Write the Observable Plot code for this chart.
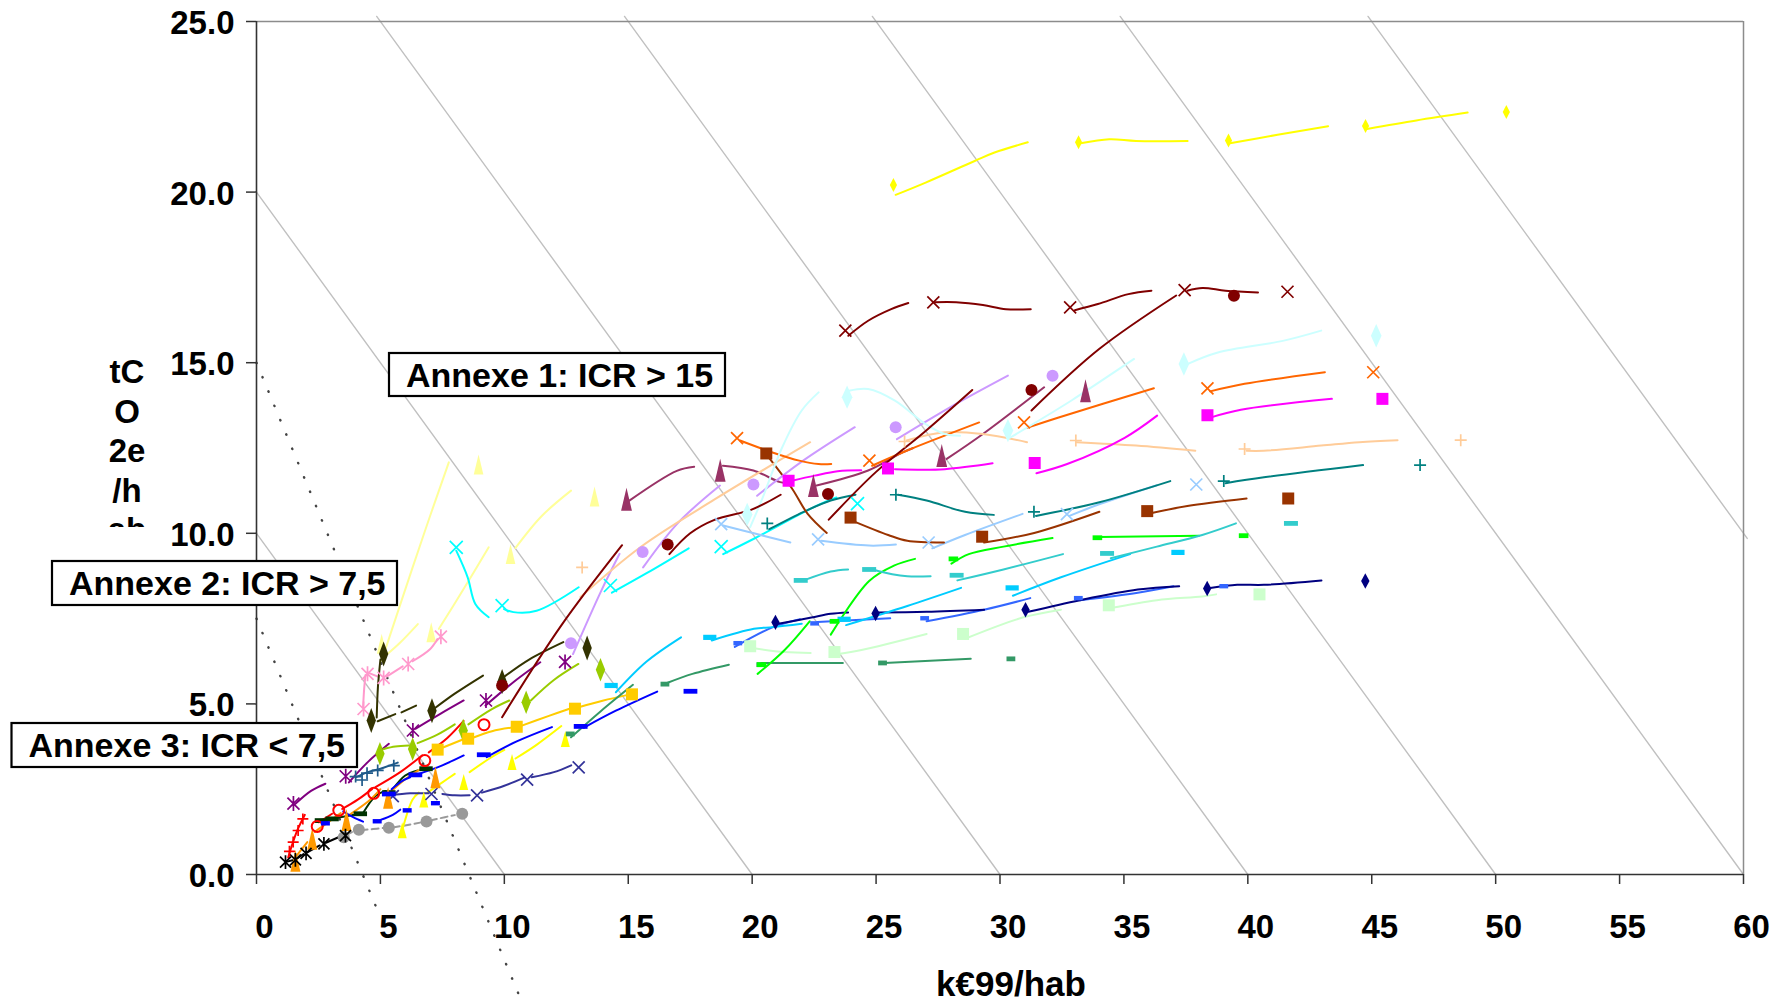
<!DOCTYPE html>
<html><head><meta charset="utf-8">
<script src="https://cdn.jsdelivr.net/npm/d3@7"></script>
<script src="https://cdn.jsdelivr.net/npm/@observablehq/plot@0.6"></script>
<style>body{margin:0;background:#fff}svg{display:block}</style>
</head><body><div id="chart"></div>
<script>
// ---------- axis / text content ----------
const xTicks = [0,5,10,15,20,25,30,35,40,45,50,55,60];
const yTicks = [0,5,10,15,20,25];
const xLabel = "k€99/hab";
const yLabelLines = ["tC","O","2e","/h","ab"];
const annexes = ["Annexe 1: ICR > 15","Annexe 2: ICR > 7,5","Annexe 3: ICR < 7,5"];
// iso lines x + y = c
const isoLevels = [10,20,30,40,50,60,70];
// dotted ICR threshold lines
const icr15 = [[0,15],[10.6,-3.55]];
const icr75 = [[0,7.5],[4.9,-1.08]];

// ---------- series (markers + line segments) ----------
const yellowD_pts = [[25.70,20.21],[33.17,21.46],[39.22,21.51],[44.75,21.94],[50.43,22.35]];
const yellowD_lines = [
 [[25.79,19.92],[27.0,20.28],[29.0,20.92],[29.78,21.16],[31.12,21.46]],
 [[33.25,21.43],[34.41,21.55],[35.49,21.5],[37.57,21.5]],
 [[39.28,21.43],[41.2,21.68],[43.24,21.93]],
 [[44.81,21.85],[46.8,22.1],[48.87,22.33]]];

const maroonX_pts = [[23.76,15.94],[27.31,16.77],[32.83,16.62],[37.45,17.13],[41.6,17.08]];
const maroonX_lines = [
 [[23.88,15.79],[24.68,16.23],[25.61,16.57],[26.3,16.75]],
 [[27.38,16.77],[28.23,16.77],[29.31,16.69],[30.24,16.57],[31.24,16.57]],
 [[33.02,16.54],[33.95,16.72],[35.18,17.01],[36.11,17.11]],
 [[37.56,17.11],[38.17,17.19],[39.1,17.11],[40.41,17.06]]];

const maroonO_pts = [[9.91,5.54],[16.59,9.67],[23.06,11.15],[31.27,14.2],[39.44,16.96]];
const maroonO_lines = [
 [[9.91,4.61],[12.3,7.3],[14.75,9.65]],
 [[16.66,9.39],[17.5,10.0],[18.5,10.4],[20.0,10.7],[21.15,11.13]],
 [[23.09,10.4],[25.0,11.8],[27.0,13.0],[28.88,14.2]],
 [[31.27,13.6],[34.0,15.4],[37.11,16.97]]];

const lcyanD_pts = [[19.8,10.55],[23.83,13.99],[30.32,13.01],[37.42,14.96],[45.18,15.79]];
const lcyanD_lines = [
 [[19.92,10.18],[20.4,11.0],[21.2,12.5],[22.0,13.6],[22.68,14.13]],
 [[23.91,14.18],[24.68,14.23],[25.76,13.89],[27.0,13.2],[27.77,12.91],[28.39,12.86]],
 [[30.4,12.8],[32.9,13.9],[35.41,15.11]],
 [[37.56,14.96],[38.79,15.3],[41.41,15.64],[42.96,15.94]]];

const orangeX_pts = [[19.39,12.79],[24.73,12.13],[30.97,13.25],[38.37,14.25],[45.06,14.72]];
const orangeX_lines = [
 [[19.51,12.72],[20.82,12.37],[21.9,12.13],[22.68,12.03],[23.19,12.03]],
 [[24.84,11.98],[26.23,12.42],[29.16,13.25]],
 [[31.09,13.09],[32.4,13.4],[36.21,14.25]],
 [[38.48,14.16],[39.87,14.38],[43.11,14.72]]];

const magentaS_pts = [[21.47,11.54],[25.48,11.9],[31.4,12.06],[38.37,13.46],[45.43,13.94]];
const magentaS_lines = [
 [[21.6,11.54],[22.52,11.69],[23.45,11.82],[24.4,11.85]],
 [[25.76,11.88],[27.77,11.88],[29.7,12.05]],
 [[31.47,11.76],[32.71,12.03],[35.03,12.8],[36.34,13.45]],
 [[38.48,13.39],[39.72,13.62],[43.39,13.94]]];

const peachP_pts = [[13.14,9.0],[26.15,12.69],[33.06,12.72],[39.87,12.47],[48.59,12.73]];
const peachP_lines = [
 [[13.07,8.13],[15.5,9.6],[18.5,11.0],[22.34,12.67]],
 [[26.23,12.72],[27.77,12.96],[29.31,12.91],[31.09,12.67]],
 [[33.1,12.67],[35.49,12.57],[37.88,12.42]],
 [[39.95,12.42],[40.64,12.42],[42.96,12.57],[44.5,12.67],[46.04,12.73]]];

const lavO_pts = [[12.69,6.78],[15.58,9.45],[20.05,11.43],[25.79,13.11],[32.12,14.62]];
const lavO_lines = [
 [[12.77,6.46],[13.9,8.3],[14.65,9.4]],
 [[15.6,9.0],[17.0,10.3],[18.7,11.4]],
 [[20.2,11.1],[22.0,12.1],[24.14,13.11]],
 [[25.84,12.76],[28.0,13.7],[30.32,14.62]]];

const plumT_pts = [[14.93,11.0],[18.71,11.85],[22.47,11.4],[27.65,12.28],[33.45,14.18]];
const plumT_lines = [
 [[15.03,10.95],[16.96,11.83],[17.66,11.95]],
 [[18.82,11.98],[20.05,11.84],[21.13,11.5],[21.6,11.45]],
 [[22.6,11.4],[24.68,11.84],[26.07,12.37],[26.5,12.5]],
 [[27.85,12.18],[29.31,12.91],[31.78,14.28]]];

const brownS_pts = [[20.57,12.34],[23.97,10.46],[29.28,9.9],[35.94,10.65],[41.63,11.02]];
const brownS_lines = [
 [[20.69,12.2],[21.62,11.3],[22.24,10.57],[23.01,10.01]],
 [[24.1,10.35],[25.49,9.95],[26.26,9.78],[27.74,9.73]],
 [[29.36,9.73],[31.38,10.01],[34.01,10.63]],
 [[36.17,10.6],[37.56,10.8],[39.95,11.02]]];

const tealP_pts = [[20.61,10.29],[25.8,11.13],[31.37,10.63],[39.03,11.53],[46.95,12.0]];
const tealP_lines = [
 [[20.69,10.12],[22.08,10.63],[23.17,10.96],[24.17,11.13]],
 [[25.88,11.13],[27.04,10.96],[28.59,10.63],[29.75,10.54]],
 [[31.45,10.51],[34.01,10.91],[36.87,11.53]],
 [[39.1,11.47],[40.65,11.64],[44.65,12.0]]];

const lblueX_pts = [[18.75,10.27],[22.66,9.82],[27.12,9.73],[32.7,10.56],[37.92,11.43]];
const lblueX_lines = [
 [[18.83,10.23],[20.07,10.0],[21.54,9.73]],
 [[22.78,9.78],[24.72,9.64],[25.8,9.67]],
 [[27.27,9.56],[28.59,9.95],[30.91,10.57]],
 [[32.8,10.51],[34.0,10.85],[36.33,11.41]]];

const cyanX_pts = [[8.06,9.59],[9.91,7.88],[14.28,8.47],[18.75,9.61],[24.25,10.87]];
const cyanX_lines = [
 [[8.06,9.49],[8.52,8.71],[8.83,7.93],[9.37,7.54]],
 [[9.99,7.78],[10.37,7.69],[11.3,7.73],[13.0,8.42]],
 [[14.34,8.26],[15.74,8.83],[17.44,9.56]],
 [[18.83,9.39],[20.07,9.84],[22.55,10.79],[23.4,11.05]]];

const turqD_pts = [[21.96,8.62],[24.72,8.94],[28.25,8.77],[34.32,9.41],[41.74,10.29]];
const turqD_lines = [
 [[22.08,8.62],[23.17,8.88],[23.87,8.94]],
 [[24.87,8.94],[25.65,8.8],[26.26,8.74],[27.2,8.74]],
 [[28.28,8.62],[30.14,8.94],[32.54,9.39]],
 [[34.47,9.27],[36.33,9.61],[38.16,9.95],[39.52,10.29]]];

const limeD_pts = [[20.38,6.15],[23.32,7.42],[28.12,9.25],[33.93,9.87],[39.83,9.93]];
const limeD_lines = [
 [[20.22,5.88],[21.31,6.58],[22.32,7.42]],
 [[23.17,7.03],[24.72,8.6],[25.72,9.05],[26.57,9.25]],
 [[28.04,9.11],[28.74,9.39],[30.14,9.61],[32.12,9.86]],
 [[34.01,9.89],[38.03,9.93]]];

const skyD_pts = [[14.31,5.54],[18.29,6.95],[23.71,7.48],[30.49,8.4],[37.18,9.44]];
const skyD_lines = [
 [[14.5,5.34],[15.74,6.24],[17.13,6.95]],
 [[18.37,6.86],[20.07,7.2],[20.84,7.25],[22.0,7.35]],
 [[23.79,7.31],[26.26,7.87],[28.43,8.4]],
 [[30.52,8.17],[32.46,8.71],[35.25,9.39]]];

const seaD_pts = [[12.66,4.12],[16.48,5.58],[20.35,6.15],[25.26,6.2],[30.44,6.32]];
const seaD_lines = [
 [[12.69,4.02],[13.88,4.78],[15.19,5.56]],
 [[16.59,5.62],[17.59,5.88],[19.06,6.15]],
 [[20.38,6.2],[23.66,6.2]],
 [[25.34,6.2],[28.82,6.32]]];

const lgreenS_pts = [[19.92,6.69],[23.32,6.52],[28.51,7.05],[34.39,7.89],[40.47,8.21]];
const lgreenS_lines = [
 [[20.07,6.63],[21.31,6.52],[22.36,6.49]],
 [[23.48,6.46],[24.41,6.58],[27.04,7.05]],
 [[28.59,6.91],[30.91,7.53],[32.46,7.76]],
 [[34.47,7.81],[36.33,8.04],[38.16,8.15],[38.72,8.21]]];

const navyD_pts = [[20.94,7.39],[24.98,7.65],[31.03,7.76],[38.36,8.38],[44.74,8.6]];
const navyD_lines = [
 [[21.0,7.34],[22.39,7.53],[23.17,7.64],[23.87,7.68]],
 [[25.03,7.68],[27.04,7.7],[29.36,7.76]],
 [[31.14,7.7],[33.23,8.04],[35.56,8.35],[37.23,8.45]],
 [[38.48,8.4],[39.57,8.49],[40.65,8.49],[42.97,8.62]]];

const royalD_pts = [[19.42,6.78],[22.52,7.36],[26.96,7.51],[33.16,8.1],[39.03,8.45]];
const royalD_lines = [
 [[19.3,6.67],[20.84,7.25],[21.93,7.48]],
 [[22.63,7.4],[25.57,7.51]],
 [[27.04,7.42],[29.36,7.76],[31.22,8.1]],
 [[33.23,8.04],[35.56,8.26],[37.0,8.45]]];

const blueA_pts = [[5.34,2.36],[6.41,2.92],[9.17,3.51],[13.08,4.34],[17.51,5.37]];
const blueA_lines = [
 [[5.45,2.5],[5.9,2.75],[6.2,2.85]],
 [[6.55,2.95],[7.5,3.2],[8.36,3.49]],
 [[9.29,3.44],[10.5,3.9],[11.92,4.32]],
 [[13.2,4.3],[14.5,4.8],[16.17,5.36]]];

const blueB_pts = [[2.78,1.5],[4.87,1.56],[6.08,1.88],[7.22,2.09]];
const blueB_lines = [
 [[3.5,1.85],[3.9,1.68],[4.3,1.55]],
 [[5.0,1.6],[5.5,1.75],[5.8,1.9]]];

const redO_pts = [[2.45,1.41],[3.32,1.88],[4.73,2.38],[6.79,3.34],[9.18,4.39]];
const redO_lines = [
 [[2.51,1.53],[3.05,1.78]],
 [[3.46,1.92],[4.1,2.2],[4.67,2.51]],
 [[4.8,2.56],[5.8,3.0],[6.68,3.49]],
 [[6.95,3.58],[7.7,4.0],[8.36,4.5]]];

const redP_pts = [[1.33,0.68],[1.48,0.95],[1.68,1.29],[1.87,1.63]];
const redP_lines = [[[1.28,0.5],[1.45,0.9],[1.65,1.3],[1.95,1.75]]];

const blackA_pts = [[1.17,0.36],[1.57,0.43],[2.0,0.62],[2.72,0.9],[3.59,1.14]];
const blackA_lines = [
 [[1.2,0.37],[1.45,0.42]],
 [[1.6,0.45],[1.9,0.6]],
 [[2.05,0.65],[2.55,0.85]],
 [[2.8,0.93],[3.4,1.12]]];

const orangeT_pts = [[1.57,0.4],[2.25,1.05],[3.63,1.6],[5.31,2.25],[7.22,2.85]];
const orangeT_lines = [
 [[1.62,0.55],[2.05,0.95]],
 [[2.35,1.25],[3.4,1.8]],
 [[3.75,1.75],[4.6,2.2],[5.0,2.5]],
 [[5.45,2.45],[6.2,2.9],[6.9,3.2]]];

const goldS_pts = [[7.31,3.66],[8.54,3.98],[10.5,4.33],[12.85,4.86],[15.15,5.28]];
const goldS_lines = [
 [[7.45,3.7],[8.3,3.95]],
 [[8.7,4.0],[9.5,4.2],[10.25,4.3]],
 [[10.65,4.35],[11.8,4.65],[12.6,4.85]],
 [[13.0,4.9],[14.0,5.1],[14.9,5.25]]];

const oliveD_pts = [[5.13,6.46],[4.63,4.51],[7.08,4.8],[9.91,5.66],[13.34,6.64]];
const oliveD_lines = [
 [[5.0,6.3],[4.9,5.5],[4.85,4.6]],
 [[4.89,4.49],[5.6,4.7]],
 [[5.85,4.75],[6.44,4.95]],
 [[7.15,4.85],[8.0,5.3],[9.14,5.83]],
 [[10.0,5.8],[11.0,6.3],[12.38,6.81]]];

const ygreenD_pts = [[4.98,3.54],[6.3,3.68],[8.34,4.22],[10.88,5.05],[13.88,6.0]];
const ygreenD_lines = [
 [[5.14,3.68],[5.6,3.75],[6.15,3.78]],
 [[6.5,3.85],[7.3,4.1],[8.0,4.4]],
 [[8.55,4.4],[9.5,4.85],[10.2,5.1]],
 [[11.07,5.1],[12.0,5.7],[12.99,6.17]]];

const purpleA_pts = [[1.49,2.08],[3.6,2.88],[6.31,4.22],[9.26,5.1],[12.45,6.23]];
const purpleA_lines = [
 [[1.57,2.07],[2.2,2.45],[2.78,2.66]],
 [[3.73,2.7],[4.5,3.3],[5.34,3.83]],
 [[6.41,4.27],[7.4,4.7],[8.36,5.1]],
 [[9.24,4.95],[10.3,5.6],[11.45,6.22]]];

const steelP_pts = [[4.0,2.87],[4.26,2.77],[4.46,2.97],[4.89,3.05],[5.54,3.19]];
const steelP_lines = [[[4.0,2.85],[4.5,3.0],[5.0,3.1],[5.7,3.28]]];

const dgreenD_pts = [[2.62,1.58],[3.05,1.63],[4.19,1.78],[5.34,2.4],[6.84,3.1]];
const dgreenD_lines = [
 [[2.5,1.6],[2.9,1.62]],
 [[3.1,1.64],[4.0,1.76]],
 [[4.3,1.8],[4.8,2.3],[5.2,2.45]],
 [[5.5,2.5],[6.0,2.9],[6.5,3.05]]];

const grayO_pts = [[3.52,1.09],[4.13,1.31],[5.34,1.37],[6.86,1.55],[8.3,1.78]];
const grayO_lines = [
 [[3.6,1.15],[3.95,1.28]],
 [[4.2,1.3],[4.7,1.33],[5.1,1.36]],
 [[5.5,1.38],[6.1,1.45],[6.6,1.52]],
 [[7.0,1.58],[7.6,1.68],[8.0,1.74]]];

const slateX_pts = [[5.5,2.3],[7.06,2.36],[8.9,2.32],[10.92,2.78],[13.0,3.14]];
const slateX_lines = [
 [[5.4,2.32],[6.2,2.38],[6.95,2.38]],
 [[7.5,2.36],[8.0,2.32],[8.6,2.32]],
 [[9.1,2.4],[10.0,2.6],[10.8,2.84]],
 [[11.1,2.85],[12.0,3.0],[12.7,3.2]]];

const yellowT_pts = [[5.88,1.3],[6.75,2.2],[8.36,2.71],[10.31,3.3],[12.46,3.97]];
const yellowT_lines = [
 [[5.9,1.35],[6.3,2.2],[6.55,2.4]],
 [[6.9,2.4],[7.5,2.7],[8.0,2.95]],
 [[8.6,3.0],[9.4,3.4],[10.0,3.65]],
 [[10.45,3.4],[11.3,3.8],[12.3,4.35]]];

const pinkA_pts = [[4.32,4.85],[4.48,5.88],[5.13,5.76],[6.12,6.17],[7.44,6.97]];
const pinkA_lines = [
 [[4.3,4.9],[4.35,5.5],[4.4,5.85]],
 [[4.55,5.9],[4.9,5.8]],
 [[5.25,5.8],[5.9,6.1]],
 [[6.3,6.25],[7.0,6.6],[7.3,6.9]]];

const paleT_pts = [[5.05,6.76],[7.05,7.1],[8.96,12.02],[10.25,9.39],[13.64,11.08]];
const paleT_lines = [
 [[5.05,6.27],[6.3,9.0],[7.0,10.5],[7.76,12.08]],
 [[5.28,6.46],[5.8,6.8],[6.51,7.34]],
 [[7.36,7.2],[8.3,8.3],[9.37,9.59]],
 [[10.45,9.57],[11.5,10.5],[12.69,11.25]]];

// ---------- styles ----------
const seriesList = [
 {pts: grayO_pts, lines: grayO_lines, color: "#999999", shape: ["circle",6], dash: "7 4"},
 {pts: paleT_pts, lines: paleT_lines, color: "#FFFF99", shape: ["tri",4.8,20]},
 {pts: pinkA_pts, lines: pinkA_lines, color: "#FF99CC", shape: ["star",6]},
 {pts: yellowT_pts, lines: yellowT_lines, color: "#FFFF00", shape: ["tri",4.5,16]},
 {pts: slateX_pts, lines: slateX_lines, color: "#333399", shape: ["x",6]},
 {pts: dgreenD_pts, lines: dgreenD_lines, color: "#003300", shape: ["dash",6.7,2.4]},
 {pts: steelP_pts, lines: steelP_lines, color: "#1F5A8A", shape: ["plus",6]},
 {pts: purpleA_pts, lines: purpleA_lines, color: "#800080", shape: ["star",6]},
 {pts: ygreenD_pts, lines: ygreenD_lines, color: "#99CC00", shape: ["diamond",4.7,11.7]},
 {pts: oliveD_pts, lines: oliveD_lines, color: "#333300", shape: ["diamond",4.7,12.5]},
 {pts: goldS_pts, lines: goldS_lines, color: "#FFCC00", shape: ["square",6]},
 {pts: orangeT_pts, lines: orangeT_lines, color: "#FF9900", shape: ["tri",5,22]},
 {pts: blackA_pts, lines: blackA_lines, color: "#000000", shape: ["star",5.5]},
 {pts: redP_pts, lines: redP_lines, color: "#FF0000", shape: ["plus",5.5]},
 {pts: redO_pts, lines: redO_lines, color: "#FF0000", shape: ["ocircle",5.5]},
 {pts: blueB_pts, lines: blueB_lines, color: "#0000FF", shape: ["dash",4.5,2.2]},
 {pts: blueA_pts, lines: blueA_lines, color: "#0000FF", shape: ["dash",6.9,2.4]},
 {pts: royalD_pts, lines: royalD_lines, color: "#3366FF", shape: ["dash",4.4,2.2]},
 {pts: navyD_pts, lines: navyD_lines, color: "#000080", shape: ["diamond",4.2,7.7]},
 {pts: lgreenS_pts, lines: lgreenS_lines, color: "#CCFFCC", shape: ["square",6]},
 {pts: seaD_pts, lines: seaD_lines, color: "#339966", shape: ["dash",4.4,2.4]},
 {pts: skyD_pts, lines: skyD_lines, color: "#00CCFF", shape: ["dash",6.6,2.6]},
 {pts: limeD_pts, lines: limeD_lines, color: "#00FF00", shape: ["dash",4.8,2.4]},
 {pts: turqD_pts, lines: turqD_lines, color: "#33CCCC", shape: ["dash",7,2.4]},
 {pts: cyanX_pts, lines: cyanX_lines, color: "#00FFFF", shape: ["x",6.5]},
 {pts: lblueX_pts, lines: lblueX_lines, color: "#99CCFF", shape: ["x",6]},
 {pts: tealP_pts, lines: tealP_lines, color: "#008080", shape: ["plus",6]},
 {pts: brownS_pts, lines: brownS_lines, color: "#993300", shape: ["square",6]},
 {pts: plumT_pts, lines: plumT_lines, color: "#993366", shape: ["tri",5.4,23]},
 {pts: lavO_pts, lines: lavO_lines, color: "#CC99FF", shape: ["circle",6]},
 {pts: peachP_pts, lines: peachP_lines, color: "#FFCC99", shape: ["plus",6]},
 {pts: magentaS_pts, lines: magentaS_lines, color: "#FF00FF", shape: ["square",6]},
 {pts: orangeX_pts, lines: orangeX_lines, color: "#FF6600", shape: ["x",6]},
 {pts: lcyanD_pts, lines: lcyanD_lines, color: "#CCFFFF", shape: ["diamond",5.3,11.7]},
 {pts: maroonO_pts, lines: maroonO_lines, color: "#800000", shape: ["circle",6]},
 {pts: maroonX_pts, lines: maroonX_lines, color: "#800000", shape: ["x",6]},
 {pts: yellowD_pts, lines: yellowD_lines, color: "#FFFF00", shape: ["diamond",3.6,7]}
];

function makeSymbol(kind, a, b) {
  switch (kind) {
    case "diamond": return {draw(c){c.moveTo(0,-b);c.lineTo(a,0);c.lineTo(0,b);c.lineTo(-a,0);c.closePath();}};
    case "square": return {draw(c){c.rect(-a,-a,2*a,2*a);}};
    case "dash": return {draw(c){c.rect(-a,-b,2*a,2*b);}};
    case "tri": return {draw(c){c.moveTo(0,-b/2);c.lineTo(a,b/2);c.lineTo(-a,b/2);c.closePath();}};
    case "circle": case "ocircle": return {draw(c){c.moveTo(a,0);c.arc(0,0,a,0,2*Math.PI);}};
    case "x": return {draw(c){c.moveTo(-a,-a);c.lineTo(a,a);c.moveTo(a,-a);c.lineTo(-a,a);}};
    case "plus": return {draw(c){c.moveTo(-a,0);c.lineTo(a,0);c.moveTo(0,-a);c.lineTo(0,a);}};
    case "star": return {draw(c){c.moveTo(-a,-a);c.lineTo(a,a);c.moveTo(a,-a);c.lineTo(-a,a);c.moveTo(0,-a*1.25);c.lineTo(0,a*1.25);}};
  }
}
const strokeKinds = new Set(["x","plus","star","ocircle"]);

// ---------- build marks ----------
const isoRows = isoLevels.flatMap(c => {
  const xs = Math.max(0, c - 25.15), xe = Math.min(c, 60.15);
  return [{c, x: xs, y: c - xs}, {c, x: xe, y: c - xe}];
});
const noText = () => "";

const marks = [
  Plot.line(isoRows, {x: "x", y: "y", z: "c", stroke: "#C0C0C0", strokeWidth: 1.4}),
  Plot.line(icr15, {x: d => d[0], y: d => d[1], stroke: "#444", strokeWidth: 2.4, strokeDasharray: "0.5 15", strokeLinecap: "round"}),
  Plot.line(icr75, {x: d => d[0], y: d => d[1], stroke: "#444", strokeWidth: 2.4, strokeDasharray: "0.5 15", strokeLinecap: "round"}),
  Plot.ruleY([25], {stroke: "#8c8c8c", strokeWidth: 1.5}),
  Plot.ruleX([60], {stroke: "#8c8c8c", strokeWidth: 1.5}),
  Plot.ruleY([0], {stroke: "#333", strokeWidth: 1.6}),
  Plot.ruleX([0], {stroke: "#333", strokeWidth: 1.6}),
  Plot.axisX({ticks: xTicks, tickSize: 10, tickFormat: noText, label: null, stroke: "#333", strokeWidth: 1.5}),
  Plot.axisX({ticks: xTicks, tickSize: 0, tickPadding: 40, dx: 8, label: null, fontSize: 33, fontWeight: "bold", fill: "#000"}),
  Plot.axisY({ticks: yTicks, tickSize: 10, tickFormat: noText, label: null, stroke: "#333", strokeWidth: 1.5}),
  Plot.axisY({ticks: yTicks, tickSize: 0, tickPadding: 22, dy: 2, tickFormat: d3.format(".1f"), label: null, fontSize: 33, fontWeight: "bold", fill: "#000"}),
  Plot.text([xLabel], {text: d => d, frameAnchor: "bottom", dx: 11, dy: 121, lineAnchor: "bottom", fontSize: 35, fontWeight: "bold", fill: "#000"})
];

for (const s of seriesList) {
  const rows = s.lines.flatMap((seg, k) => seg.map(([x, y]) => ({x, y, seg: k})));
  marks.push(Plot.line(rows, {x: "x", y: "y", z: "seg", stroke: s.color, strokeWidth: 2, curve: "catmull-rom", strokeDasharray: s.dash}));
}
for (const s of seriesList) {
  const [kind, a, b] = s.shape;
  const isStroke = strokeKinds.has(kind);
  marks.push(Plot.dot(s.pts, {
    x: d => d[0], y: d => d[1], symbol: makeSymbol(kind, a, b),
    fill: isStroke ? "none" : s.color, stroke: isStroke ? s.color : "none",
    strokeWidth: kind === "ocircle" ? 2 : 1.7
  }));
}

const chart = Plot.plot({
  width: 1787, height: 1002,
  marginLeft: 256, marginRight: 44, marginTop: 21, marginBottom: 128,
  x: {domain: [0, 60]},
  y: {domain: [0, 25]},
  style: {fontFamily: "'Liberation Sans', Arial, sans-serif", background: "#fff", overflow: "visible"},
  marks
});

// ---------- annotations ----------
const svg = d3.select(chart);
const defs = svg.append("defs");
defs.append("clipPath").attr("id", "ylclip").append("rect").attr("x", 0).attr("y", 0).attr("width", 250).attr("height", 527);
const yl = svg.append("g").attr("clip-path", "url(#ylclip)").attr("font-weight", "bold").attr("font-size", 33).attr("text-anchor", "middle").attr("fill", "#000");
yLabelLines.forEach((t, i) => yl.append("text").attr("x", 127).attr("y", 383 + 39.5 * i).text(t));

const boxPos = [[389, 353, 336, 43], [52, 561, 345, 44], [11.5, 723, 345.5, 44]];
annexes.forEach((t, i) => {
  const [x, y, w, h] = boxPos[i];
  const g = svg.append("g").attr("text-anchor", "start");
  g.append("rect").attr("x", x).attr("y", y).attr("width", w).attr("height", h).attr("fill", "#fff").attr("stroke", "#000").attr("stroke-width", 2.2);
  g.append("text").attr("x", x + 17).attr("y", y + 34).attr("text-anchor", "start").attr("font-size", 34).attr("font-weight", "bold").attr("fill", "#000").text(t);
});

document.getElementById("chart").appendChild(chart);
</script></body></html>
